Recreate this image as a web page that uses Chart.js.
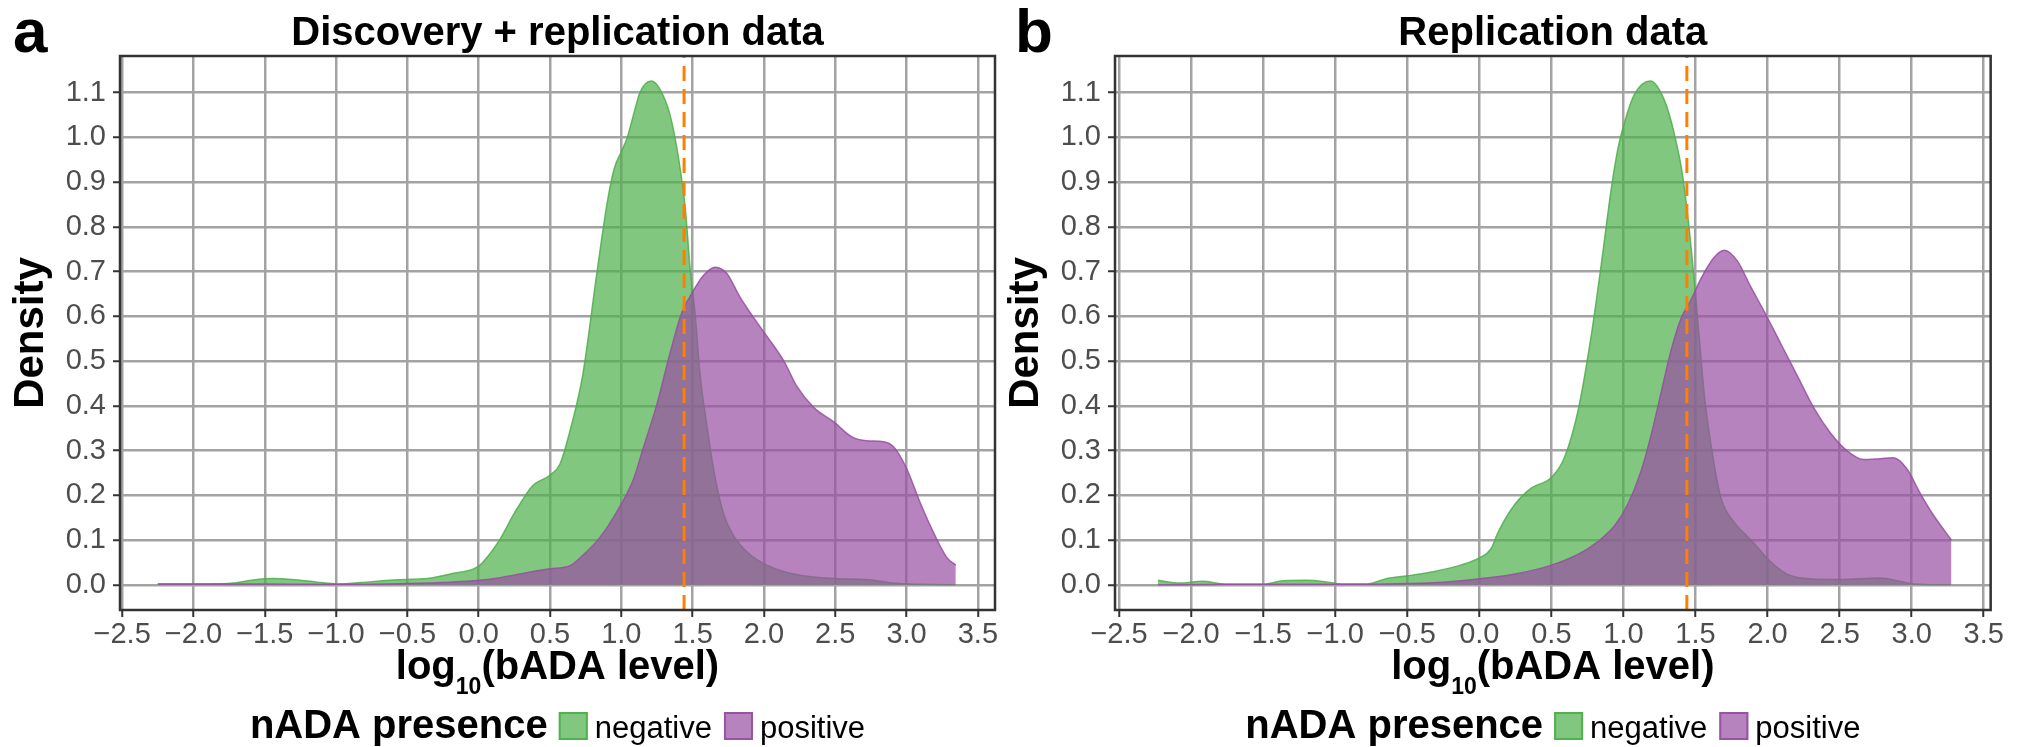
<!DOCTYPE html>
<html>
<head>
<meta charset="utf-8">
<script src="https://cdn.jsdelivr.net/npm/chart.js@4.4.1/dist/chart.umd.min.js"></script>
<style>
  html, body { margin: 0; padding: 0; background: #fff; }
  body { width: 2017px; height: 747px; position: relative; overflow: hidden; }
  canvas { position: absolute; top: 0; }
</style>
</head>
<body>
<canvas id="panelA" width="1000" height="747" style="left:0px;width:1000px;height:747px"></canvas>
<canvas id="panelB" width="1010" height="747" style="left:995px;width:1010px;height:747px"></canvas>
<script>
// ── data ──
const xTicks = [-2.5, -2.0, -1.5, -1.0, -0.5, 0.0, 0.5, 1.0, 1.5, 2.0, 2.5, 3.0, 3.5];
const yTicks = [0.0, 0.1, 0.2, 0.3, 0.4, 0.5, 0.6, 0.7, 0.8, 0.9, 1.0, 1.1];
const cutoff = 1.44;
const groups = ['negative', 'positive'];

// a: discovery + replication
const negAX = [-2.25, -1.9, -1.72, -1.58, -1.44, -1.25, -1.13, -0.99, -0.83, -0.6, -0.36, -0.2, 0.0, 0.08, 0.15, 0.25, 0.38, 0.5, 0.57, 0.65, 0.73, 0.83, 0.9, 0.95, 1.0, 1.04, 1.09, 1.13, 1.21, 1.27, 1.34, 1.4, 1.45, 1.48, 1.52, 1.55, 1.6, 1.66, 1.72, 1.79, 1.9, 2.02, 2.21, 2.49, 2.72, 2.9, 3.1, 3.34];
const negAY = [0.002, 0.002, 0.004, 0.011, 0.014, 0.010, 0.006, 0.002, 0.005, 0.011, 0.014, 0.024, 0.042, 0.07, 0.102, 0.16, 0.222, 0.245, 0.27, 0.356, 0.47, 0.70, 0.852, 0.93, 0.968, 0.998, 1.056, 1.1, 1.126, 1.108, 1.052, 0.956, 0.836, 0.716, 0.596, 0.476, 0.356, 0.236, 0.156, 0.108, 0.068, 0.044, 0.024, 0.014, 0.012, 0.004, 0.001, 0.0];
const posAX = [-2.25, -1.5, -1.0, -0.5, -0.2, 0.0, 0.15, 0.38, 0.5, 0.64, 0.73, 0.85, 0.97, 1.085, 1.156, 1.25, 1.34, 1.42, 1.495, 1.577, 1.66, 1.74, 1.83, 1.93, 2.02, 2.14, 2.23, 2.35, 2.49, 2.61, 2.72, 2.84, 2.91, 3.0, 3.1, 3.19, 3.28, 3.345];
const posAY = [0.002, 0.002, 0.001, 0.003, 0.006, 0.01, 0.016, 0.03, 0.036, 0.043, 0.066, 0.106, 0.164, 0.236, 0.308, 0.404, 0.516, 0.605, 0.652, 0.692, 0.71, 0.696, 0.644, 0.596, 0.556, 0.5, 0.444, 0.396, 0.364, 0.332, 0.322, 0.32, 0.308, 0.26, 0.18, 0.116, 0.062, 0.044];

// b: replication
const negBX = [-2.23, -2.08, -1.92, -1.78, -1.64, -1.5, -1.36, -1.2, -1.05, -0.96, -0.78, -0.64, -0.5, -0.31, -0.13, 0.0, 0.08, 0.131, 0.247, 0.36, 0.5, 0.59, 0.684, 0.776, 0.846, 0.915, 0.96, 1.01, 1.076, 1.187, 1.283, 1.35, 1.41, 1.456, 1.49, 1.525, 1.56, 1.606, 1.675, 1.767, 1.86, 1.93, 2.02, 2.136, 2.27, 2.5, 2.78, 2.92, 3.01, 3.27];
const negBY = [0.010, 0.004, 0.008, 0.002, 0.001, 0.001, 0.009, 0.010, 0.006, 0.002, 0.002, 0.014, 0.02, 0.03, 0.044, 0.06, 0.08, 0.118, 0.18, 0.216, 0.24, 0.284, 0.388, 0.556, 0.716, 0.884, 0.972, 1.036, 1.096, 1.126, 1.084, 1.012, 0.916, 0.796, 0.684, 0.556, 0.428, 0.316, 0.196, 0.14, 0.108, 0.084, 0.052, 0.024, 0.014, 0.012, 0.015, 0.008, 0.002, 0.0];
const posBX = [-2.23, -1.75, -1.0, -0.5, -0.25, 0.016, 0.247, 0.5, 0.707, 0.82, 0.938, 1.03, 1.12, 1.19, 1.26, 1.33, 1.4, 1.467, 1.537, 1.63, 1.7, 1.79, 1.88, 1.975, 2.09, 2.205, 2.32, 2.435, 2.55, 2.666, 2.78, 2.873, 2.965, 3.06, 3.15, 3.276];
const posBY = [0.0, 0.001, 0.001, 0.003, 0.006, 0.014, 0.024, 0.044, 0.072, 0.096, 0.132, 0.18, 0.252, 0.332, 0.428, 0.524, 0.596, 0.636, 0.684, 0.732, 0.748, 0.724, 0.668, 0.612, 0.54, 0.468, 0.396, 0.34, 0.30, 0.28, 0.282, 0.284, 0.26, 0.204, 0.156, 0.1];

const yRange = [-0.0563, 1.182];

// ── styling ──
const FONT = '"Liberation Sans", Arial, Helvetica, sans-serif';
const NEG = '77,175,74';
const POS = '152,78,163';
Chart.defaults.font.family = FONT;

const toPoints = (xs, ys) => xs.map((x, i) => ({ x, y: ys[i] }));
const fmt = v => (v < 0 ? '\u2212' : '') + Math.abs(v).toFixed(1);

const panelDecor = {
  id: 'panelDecor',
  afterDraw(chart, args, opts) {
    const { ctx, chartArea: a } = chart;
    const cx = (a.left + a.right) / 2;
    ctx.save();
    // panel border
    ctx.strokeStyle = '#333';
    ctx.lineWidth = 2.5;
    ctx.strokeRect(a.left, a.top, a.right - a.left, a.bottom - a.top);

    ctx.fillStyle = '#000';
    ctx.textBaseline = 'alphabetic';
    // panel letter
    ctx.textAlign = 'left';
    ctx.font = 'bold 62px ' + FONT;
    ctx.fillText(opts.letter, opts.letterX, 52);
    // title
    ctx.textAlign = 'center';
    ctx.font = 'bold 40px ' + FONT;
    ctx.fillText(opts.title, cx, 45);

    // x axis title with subscript
    ctx.textAlign = 'left';
    const big = 'bold 40px ' + FONT, small = 'bold 23px ' + FONT;
    ctx.font = big;
    const w1 = ctx.measureText('log').width;
    const w3 = ctx.measureText('(bADA level)').width;
    ctx.font = small;
    const w2 = ctx.measureText('10').width;
    let x = cx - (w1 + w2 + w3) / 2;
    ctx.font = big; ctx.fillText('log', x, 679); x += w1;
    ctx.font = small; ctx.fillText('10', x, 694); x += w2;
    ctx.font = big; ctx.fillText('(bADA level)', x, 679);

    // legend
    const lt = 'nADA presence';
    const lbl = '31px ' + FONT;
    ctx.font = big;
    const wt = ctx.measureText(lt).width;
    ctx.font = lbl;
    const wl = groups.map(g => ctx.measureText(g).width);
    const box = 29, gapT = 11, gapB = 7, gapL = 12;
    const total = wt + gapT + (box + gapB) * 2 + wl[0] + gapL + wl[1];
    x = cx - total / 2;
    ctx.font = big; ctx.fillStyle = '#000';
    ctx.fillText(lt, x, 738);
    x += wt + gapT;
    [NEG, POS].forEach((c, i) => {
      ctx.fillStyle = `rgba(${c},0.7)`;
      ctx.fillRect(x, 712, box, 28);
      ctx.strokeStyle = `rgba(${c},0.9)`;
      ctx.lineWidth = 2;
      ctx.strokeRect(x + 1, 713, box - 2, 26);
      x += box + gapB;
      ctx.fillStyle = '#000';
      ctx.font = lbl;
      ctx.fillText(groups[i], x, 738);
      x += wl[i] + gapL;
    });
    ctx.restore();
  }
};

function drawPanel(id, p) {
  return new Chart(document.getElementById(id), {
    type: 'line',
    data: {
      datasets: [
        { label: groups[0], data: toPoints(p.negX, p.negY), fill: 'origin',
          backgroundColor: `rgba(${NEG},0.7)`, borderColor: `rgba(${NEG},0.85)`, borderWidth: 1.5,
          pointRadius: 0, cubicInterpolationMode: 'monotone', order: 3 },
        { label: groups[1], data: toPoints(p.posX, p.posY), fill: 'origin',
          backgroundColor: `rgba(${POS},0.7)`, borderColor: `rgba(${POS},0.85)`, borderWidth: 1.5,
          pointRadius: 0, cubicInterpolationMode: 'monotone', order: 2 },
        { label: 'cutoff', data: [{ x: cutoff, y: yRange[0] }, { x: cutoff, y: yRange[1] }], fill: false,
          borderColor: '#FF7F00', borderWidth: 3, borderDash: [15, 8], pointRadius: 0, order: 1 }
      ]
    },
    options: {
      responsive: false,
      animation: false,
      devicePixelRatio: 1,
      layout: { padding: { top: 56, right: p.padRight, bottom: 0, left: 0 } },
      plugins: {
        legend: { display: false },
        tooltip: { enabled: false },
        panelDecor: { letter: p.letter, letterX: p.letterX, title: p.title }
      },
      scales: {
        x: {
          type: 'linear', min: p.xRange[0], max: p.xRange[1],
          afterBuildTicks: s => { s.ticks = xTicks.map(v => ({ value: v })); },
          afterFit: s => { s.height = 137; },
          border: { display: false },
          grid: { color: '#a3a3a3', lineWidth: 2.5, tickColor: '#333', tickWidth: 2, tickLength: 7 },
          ticks: { color: '#4d4d4d', font: { size: 29 }, padding: 1, maxRotation: 0, autoSkip: false, callback: fmt }
        },
        y: {
          type: 'linear', min: yRange[0], max: yRange[1],
          afterBuildTicks: s => { s.ticks = yTicks.map(v => ({ value: v })); },
          afterFit: s => { s.width = 120; },
          border: { display: false },
          grid: { color: '#a3a3a3', lineWidth: 2.5, tickColor: '#333', tickWidth: 2, tickLength: 7 },
          ticks: { color: '#4d4d4d', font: { size: 29 }, padding: 7, callback: fmt },
          title: { display: true, text: 'Density', color: '#000', font: { size: 42, weight: 'bold' }, padding: { top: 6, bottom: 0 } }
        }
      }
    },
    plugins: [panelDecor]
  });
}

drawPanel('panelA', {
  letter: 'a', letterX: 13, title: 'Discovery + replication data',
  negX: negAX, negY: negAY, posX: posAX, posY: posAY,
  xRange: [-2.515, 3.62], padRight: 5
});
drawPanel('panelB', {
  letter: 'b', letterX: 20, title: 'Replication data',
  negX: negBX, negY: negBY, posX: posBX, posY: posBY,
  xRange: [-2.528, 3.548], padRight: 12
});
</script>
</body>
</html>
